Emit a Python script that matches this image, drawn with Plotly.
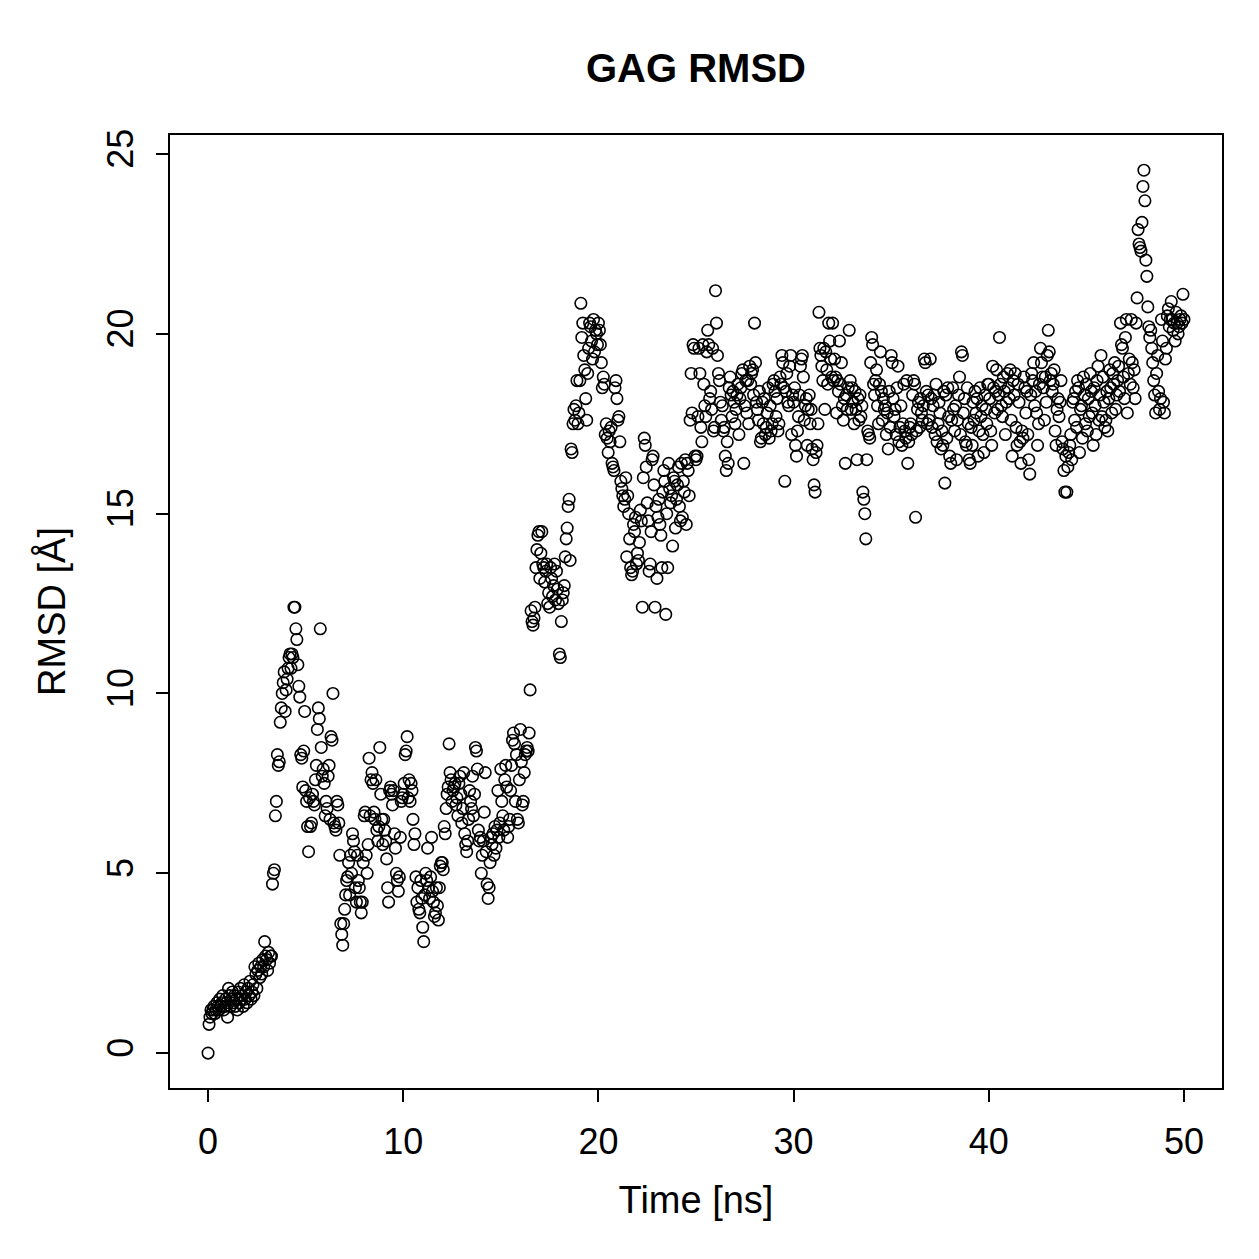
import numpy as np
import plotly.graph_objects as go

# RMSD values (Å), one frame every 0.05 ns
rmsd_0_10 = [
    0.0, 0.8, 1.0, 1.2, 1.1, 1.2, 1.3, 1.1, 1.2, 1.4, 1.3, 1.2, 1.5, 1.3, 1.4, 1.6, 1.2, 1.3, 1.5, 1.4,
    1.0, 1.8, 1.6, 1.3, 1.5, 1.7, 1.4, 1.6, 1.3, 1.5, 1.2, 1.7, 1.4, 1.8, 1.5, 1.6, 1.3, 1.9, 1.5, 1.7,
    1.4, 1.8, 1.6, 2.0, 1.5, 1.7, 1.9, 1.6, 2.4, 2.2, 1.8, 2.3, 2.5, 2.1, 2.4, 2.2, 2.6, 2.4, 3.1, 2.7,
    2.6, 2.3, 2.8, 2.5, 2.7, 2.7, 4.7, 5.0, 5.1, 6.6, 7.0, 8.3, 8.0, 8.1, 9.2, 9.6, 10.0, 10.3, 10.6, 9.5,
    10.1, 10.4, 10.7, 11.0, 11.1, 10.7, 11.1, 11.0, 12.4, 12.4, 11.8, 11.5, 10.8, 10.2, 9.9, 8.3, 8.2, 7.4, 8.4, 9.5,
    7.3, 7.0, 6.3, 5.6, 7.1, 6.3, 6.4, 7.2, 7.0, 6.9, 7.6, 8.0, 9.0, 9.6, 9.3, 11.8, 8.5, 7.7, 7.9, 7.5,
    6.6, 7.0, 6.8, 7.7, 8.0, 6.5, 8.8, 8.7, 10.0, 6.4, 6.3, 6.2, 7.0, 6.9, 6.4, 5.5, 3.6, 3.3, 3.0, 3.6,
    4.0, 4.4, 4.8, 4.9, 5.3, 4.4, 5.5, 5.0, 6.1, 5.9, 5.6, 4.6, 4.2, 5.5, 4.8, 4.6, 4.2, 3.9, 4.2, 5.3,
    6.6, 6.7, 5.5, 5.0, 5.8, 8.2, 6.6, 7.6, 7.8, 7.5, 6.7, 6.5, 7.6, 6.2, 5.9, 6.3, 8.5, 7.2, 6.5, 5.8,
    6.5, 6.2, 5.9, 5.4, 4.6, 4.2, 7.3, 7.4, 7.2, 6.9, 7.3, 6.1, 5.7, 5.0, 4.8, 4.5, 4.9, 6.0, 7.0, 7.1,
]
rmsd_10_20 = [
    7.2, 7.5, 8.3, 8.4, 8.8, 7.1, 7.6, 7.0, 7.5, 7.3, 6.5, 5.8, 6.1, 4.9, 4.2, 4.6, 4.0, 3.9, 4.8, 4.3,
    3.5, 3.1, 4.4, 5.0, 4.8, 5.7, 4.6, 4.3, 4.9, 6.0, 4.5, 4.2, 3.8, 3.9, 4.6, 4.1, 3.7, 4.6, 5.2, 5.3,
    5.3, 5.1, 6.3, 6.1, 6.8, 7.2, 7.4, 8.6, 7.8, 7.6, 7.0, 7.3, 7.4, 7.5, 6.9, 7.1, 6.6, 7.5, 7.7, 7.2,
    6.4, 6.8, 7.8, 6.1, 5.8, 5.6, 5.9, 6.5, 7.3, 7.0, 6.8, 7.7, 6.6, 7.2, 8.5, 8.4, 7.9, 6.2, 5.9, 6.0,
    5.0, 5.5, 5.9, 6.7, 7.8, 5.6, 4.7, 4.3, 4.6, 5.3, 6.0, 5.8, 6.1, 5.5, 6.3, 5.7, 6.2, 7.3, 6.0, 6.4,
    7.9, 7.0, 6.6, 6.2, 7.6, 8.0, 7.4, 6.0, 6.3, 6.5, 7.3, 8.0, 8.7, 8.9, 8.6, 7.0, 8.3, 6.5, 6.4, 7.6,
    9.0, 8.1, 6.9, 7.0, 7.8, 8.3, 8.4, 8.5, 8.4, 8.9, 10.1, 12.3, 12.0, 11.9, 12.1, 12.4, 13.5, 14.0, 14.4, 14.5,
    13.2, 13.9, 14.5, 13.6, 13.5, 13.1, 13.4, 13.6, 12.5, 12.8, 12.4, 13.5, 13.2, 12.7, 13.0, 13.6, 12.6, 13.4, 12.9, 12.5,
    11.1, 11.0, 12.0, 12.6, 12.8, 13.0, 13.8, 14.3, 14.6, 15.2, 15.4, 13.7, 16.8, 16.7, 17.5, 17.9, 17.6, 18.0, 18.7, 17.5,
    17.8, 18.7, 20.85, 19.9, 20.3, 19.4, 19.0, 18.2, 17.6, 18.9, 19.6, 20.3, 20.2, 19.8, 19.3, 20.4, 19.5, 20.1, 20.0, 19.7,
]
rmsd_20_30 = [
    20.3, 20.1, 19.7, 19.2, 18.5, 18.8, 18.6, 17.2, 17.5, 17.1, 16.7, 17.3, 17.0, 17.4, 16.4, 16.3, 16.2, 18.5, 18.7, 18.2,
    17.6, 17.7, 17.0, 15.9, 15.7, 15.5, 15.2, 15.4, 16.0, 13.8, 15.5, 15.0, 14.3, 13.5, 13.3, 13.4, 14.7, 14.5, 14.9, 13.6,
    13.9, 13.7, 14.2, 15.1, 14.8, 12.4, 16.0, 17.1, 16.9, 16.3, 15.3, 14.8, 13.4, 13.6, 14.5, 16.5, 16.6, 15.8, 12.4, 15.2,
    13.2, 14.9, 15.4, 14.7, 14.4, 13.5, 15.6, 16.2, 15.9, 12.2, 15.0, 13.5, 16.4, 15.7, 15.3, 15.5, 14.1, 16.0, 15.9, 14.6,
    15.4, 15.8, 16.3, 15.2, 14.8, 16.4, 14.9, 15.9, 15.6, 16.5, 14.7, 16.4, 16.2, 15.5, 17.6, 18.9, 17.8, 19.7, 19.6, 16.6,
    16.5, 16.6, 17.7, 19.6, 18.9, 17.4, 17.0, 19.7, 18.6, 18.0, 17.7, 19.5, 20.1, 19.7, 18.2, 18.4, 17.9, 19.6, 17.3, 17.4,
    21.2, 20.3, 19.4, 18.9, 18.7, 18.1, 17.6, 18.0, 17.3, 17.4, 16.6, 16.2, 17.0, 16.4, 18.5, 18.8, 18.3, 17.7, 18.4, 18.1,
    17.5, 17.9, 18.3, 18.6, 17.2, 18.2, 18.5, 18.9, 19.0, 16.4, 18.0, 18.7, 17.8, 18.7, 17.5, 19.1, 18.6, 18.9, 19.0, 18.3,
    20.3, 19.2, 18.1, 17.9, 17.6, 18.4, 17.0, 17.1, 18.1, 17.5, 18.2, 17.2, 17.4, 17.8, 18.5, 17.1, 18.0, 17.3, 17.5, 18.6,
    18.7, 18.4, 17.7, 18.2, 17.3, 17.5, 18.8, 18.6, 19.4, 19.2, 18.5, 15.9, 18.4, 18.9, 18.1, 18.0, 19.1, 19.4, 17.2, 18.3,
]
rmsd_30_40 = [
    18.1, 18.5, 16.9, 16.6, 17.3, 17.7, 18.3, 19.1, 19.3, 19.4, 18.8, 17.6, 18.0, 18.2, 16.9, 17.9, 18.3, 17.5, 17.9, 16.8,
    16.5, 15.8, 15.6, 16.7, 16.9, 17.5, 20.6, 19.6, 19.4, 19.1, 18.7, 19.6, 17.9, 19.5, 19.0, 18.6, 20.3, 19.8, 19.3, 18.8,
    20.3, 18.7, 19.3, 18.8, 17.8, 18.7, 18.4, 19.8, 18.6, 19.2, 18.0, 17.6, 18.2, 16.4, 18.3, 17.9, 18.5, 20.1, 18.7, 17.9,
    18.5, 18.1, 17.5, 18.4, 17.9, 16.5, 18.2, 17.6, 18.3, 17.7, 18.0, 15.6, 15.4, 15.0, 14.3, 16.5, 17.3, 17.2, 17.1, 19.2,
    19.9, 19.7, 18.6, 18.3, 18.7, 19.0, 18.0, 17.5, 18.6, 19.5, 18.4, 17.6, 18.2, 17.9, 18.0, 17.2, 17.8, 16.8, 18.4, 17.4,
    19.4, 19.2, 18.2, 17.7, 17.9, 17.2, 18.5, 19.1, 17.0, 17.4, 18.0, 16.9, 17.5, 18.6, 17.3, 17.1, 18.7, 16.4, 17.0, 17.4,
    17.5, 17.2, 18.3, 18.7, 18.6, 14.9, 17.3, 17.9, 18.1, 17.4, 18.2, 17.8, 17.6, 18.0, 19.3, 19.2, 18.4, 17.5, 18.3, 17.6,
    19.3, 18.2, 17.4, 18.0, 18.3, 17.2, 18.6, 17.0, 17.5, 18.1, 17.8, 16.8, 17.3, 16.9, 18.4, 15.85, 18.3, 17.1, 18.5, 17.7,
    16.6, 16.4, 17.6, 18.5, 17.9, 17.3, 18.0, 16.5, 17.6, 18.3, 18.8, 17.2, 19.5, 19.4, 17.8, 18.2, 17.0, 16.9, 18.5, 17.5,
    16.5, 16.4, 17.4, 16.9, 18.1, 17.6, 18.4, 17.8, 18.2, 16.6, 17.3, 18.5, 17.7, 18.0, 17.2, 16.7, 18.3, 17.9, 17.5, 18.6,
]
rmsd_40_50 = [
    18.6, 18.2, 17.3, 16.9, 19.1, 18.5, 17.8, 18.4, 19.0, 17.9, 18.3, 19.9, 18.6, 18.0, 17.7, 18.8, 18.4, 17.2, 18.1, 18.9,
    18.5, 18.2, 19.0, 17.6, 16.6, 18.7, 18.3, 18.9, 17.4, 16.9, 18.6, 18.1, 17.0, 16.4, 17.3, 17.1, 18.8, 18.5, 17.8, 18.4,
    17.2, 16.5, 16.1, 18.3, 18.9, 18.7, 19.2, 18.0, 18.4, 17.8, 16.9, 17.5, 18.6, 19.6, 19.2, 18.8, 18.5, 17.6, 18.8, 18.1,
    19.4, 20.1, 19.5, 18.7, 18.9, 18.4, 18.6, 19.0, 17.3, 16.9, 17.9, 18.2, 17.7, 18.1, 18.7, 17.0, 16.8, 16.2, 15.6, 16.6,
    15.6, 16.3, 16.7, 16.9, 17.2, 16.5, 18.1, 18.2, 17.6, 18.4, 17.4, 18.7, 18.5, 16.7, 17.9, 18.0, 17.1, 18.8, 18.3, 17.5,
    18.6, 17.3, 18.2, 17.7, 18.9, 18.4, 17.8, 16.9, 18.5, 18.0, 17.2, 18.7, 19.1, 17.6, 18.3, 19.4, 17.7, 18.8, 18.1, 17.4,
    17.6, 18.4, 17.3, 18.2, 19.0, 18.5, 17.8, 18.9, 18.6, 19.2, 17.9, 18.3, 18.7, 19.1, 18.4, 20.3, 19.7, 19.6, 18.8, 18.2,
    19.9, 20.4, 17.8, 18.9, 19.3, 18.6, 20.4, 19.2, 18.5, 19.0, 18.2, 20.3, 21.0, 22.9, 22.5, 22.4, 22.3, 23.1, 24.1, 24.55,
    23.7, 22.05, 21.6, 20.75, 20.2, 19.9, 20.1, 19.6, 19.2, 18.7, 18.3, 17.8, 18.9, 19.4, 18.4, 17.9, 18.2, 20.4, 19.8, 18.1,
    17.8, 19.3, 19.6, 20.5, 20.7, 20.2, 20.4, 20.9, 20.4, 20.1, 20.3, 19.8, 20.6, 20.3, 20.0, 20.2, 20.4, 20.5, 20.3, 21.1,
    20.4,
]

frame_step_ns = 0.05
x_ticks = [0, 10, 20, 30, 40, 50]
y_ticks = [0, 5, 10, 15, 20, 25]

rmsd = rmsd_0_10 + rmsd_10_20 + rmsd_20_30 + rmsd_30_40 + rmsd_40_50
time_ns = np.round(np.arange(len(rmsd)) * frame_step_ns, 2)

FONT = "Liberation Sans, Arial, Helvetica, sans-serif"

fig = go.Figure()
fig.add_trace(go.Scatter(
    x=time_ns, y=rmsd, mode="markers",
    marker=dict(symbol="circle-open", size=11.5, color="black", line=dict(width=1.6, color="black")),
    showlegend=False,
))

fig.update_layout(
    width=1259, height=1259,
    paper_bgcolor="white", plot_bgcolor="white",
    margin=dict(l=170, r=37, t=135, b=171),
    font=dict(family=FONT, size=36, color="black"),
    title=dict(text="<b>GAG RMSD</b>", x=(170 + 1222) / 2 / 1259, xanchor="center",
               y=1 - 68 / 1259, yanchor="middle", font=dict(size=40, family=FONT)),
)
axis_common = dict(
    showline=True, mirror=True, linecolor="black", linewidth=2,
    ticks="outside", ticklen=12, tickwidth=2, tickcolor="black",
    showgrid=False, zeroline=False, tickfont=dict(size=36, family=FONT),
    ticklabelstandoff=9,
)
fig.update_xaxes(range=[-1.95, 51.95], tickvals=x_ticks,
                 title=dict(text="Time [ns]", font=dict(size=38), standoff=25),
                 **axis_common)
fig.update_yaxes(range=[-0.97, 25.53], tickvals=y_ticks, tickangle=-90,
                 title=dict(text="RMSD [Å]", font=dict(size=38), standoff=22),
                 **axis_common)

fig.write_html("out.html")
